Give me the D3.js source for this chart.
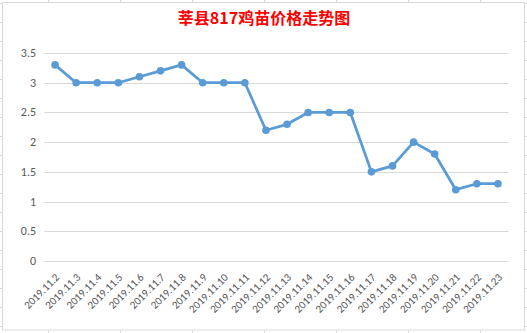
<!DOCTYPE html>
<html>
<head>
<meta charset="utf-8">
<script src="https://cdn.jsdelivr.net/npm/d3@7"></script>
<style>
body { margin: 0; background: #fff; }
</style>
</head>
<body>
<script>
// 鸡苗价格折线图
var w = 527;
var h = 333;

var dates = ["2019.11.2","2019.11.3","2019.11.4","2019.11.5","2019.11.6","2019.11.7","2019.11.8",
  "2019.11.9","2019.11.10","2019.11.11","2019.11.12","2019.11.13","2019.11.14","2019.11.15",
  "2019.11.16","2019.11.17","2019.11.18","2019.11.19","2019.11.20","2019.11.21","2019.11.22","2019.11.23"];
var prices = [3.3,3.0,3.0,3.0,3.1,3.2,3.3,3.0,3.0,3.0,2.2,2.3,2.5,2.5,2.5,1.5,1.6,2.0,1.8,1.2,1.3,1.3];
var yTicks = [0,0.5,1,1.5,2,2.5,3,3.5];

var svg = d3.select("body").append("svg")
  .attr("width", w)
  .attr("height", h);

// 表格背景线
var cols = [48,120,192,264,336,408,480];
var rows = [];
for (var r = 3; r < h; r += 19) rows.push(r);
svg.selectAll(".col").data(cols).enter().append("line")
  .attr("x1", function(d){return d+0.5;}).attr("x2", function(d){return d+0.5;})
  .attr("y1", 0).attr("y2", h)
  .attr("stroke", "#d9d9d9");
svg.selectAll(".row").data(rows).enter().append("line")
  .attr("x1", 0).attr("x2", w)
  .attr("y1", function(d){return d+0.5;}).attr("y2", function(d){return d+0.5;})
  .attr("stroke", "#d9d9d9");

// 图表区
svg.append("rect")
  .attr("x", 2.5).attr("y", 2.5)
  .attr("width", 522).attr("height", 327.5)
  .attr("fill", "#fff")
  .attr("stroke", "#d9d9d9");

var x = d3.scaleBand().domain(dates).range([44.5, 508.5]);
var y = d3.scaleLinear().domain([0, 3.5]).range([261, 53]);

// 网格线
svg.selectAll(".grid").data(yTicks).enter().append("line")
  .attr("x1", 44.5).attr("x2", 508.5)
  .attr("y1", function(d){return Math.round(y(d))+0.5;})
  .attr("y2", function(d){return Math.round(y(d))+0.5;})
  .attr("stroke", "#d9d9d9");

// y轴标签
svg.selectAll(".ylab").data(yTicks).enter().append("text")
  .text(function(d){return d;})
  .attr("x", 36)
  .attr("y", function(d){return y(d)+4;})
  .attr("text-anchor", "end")
  .attr("font-family", "Calibri, Carlito, 'Liberation Sans', sans-serif")
  .attr("font-size", 12)
  .attr("fill", "#595959");

// x轴标签
svg.selectAll(".xlab").data(dates).enter().append("text")
  .text(function(d){return d;})
  .attr("transform", function(d){
    var cx = x(d) + x.bandwidth()/2 + 5;
    return "translate(" + cx + ",278) rotate(-45)";
  })
  .attr("text-anchor", "end")
  .attr("font-family", "Calibri, Carlito, 'Liberation Sans', sans-serif")
  .attr("font-size", 11)
  .attr("fill", "#595959");

// 折线
var line = d3.line()
  .x(function(d,i){return x(dates[i]) + x.bandwidth()/2;})
  .y(function(d){return y(d);});

svg.append("path")
  .datum(prices)
  .attr("d", line)
  .attr("fill", "none")
  .attr("stroke", "#5b9bd5")
  .attr("stroke-width", 2.75)
  .attr("stroke-linejoin", "round");

svg.selectAll(".dot").data(prices).enter().append("circle")
  .attr("cx", function(d,i){return x(dates[i]) + x.bandwidth()/2;})
  .attr("cy", function(d){return y(d);})
  .attr("r", 3.8)
  .attr("fill", "#5b9bd5");

// 标题
svg.append("text")
  .text("莘县817鸡苗价格走势图")
  .attr("x", 264)
  .attr("y", 24)
  .attr("text-anchor", "middle")
  .attr("font-family", "'Noto Sans CJK SC', sans-serif")
  .attr("font-weight", "bold")
  .attr("font-size", 16)
  .attr("fill", "#ff0000");
</script>
</body>
</html>
